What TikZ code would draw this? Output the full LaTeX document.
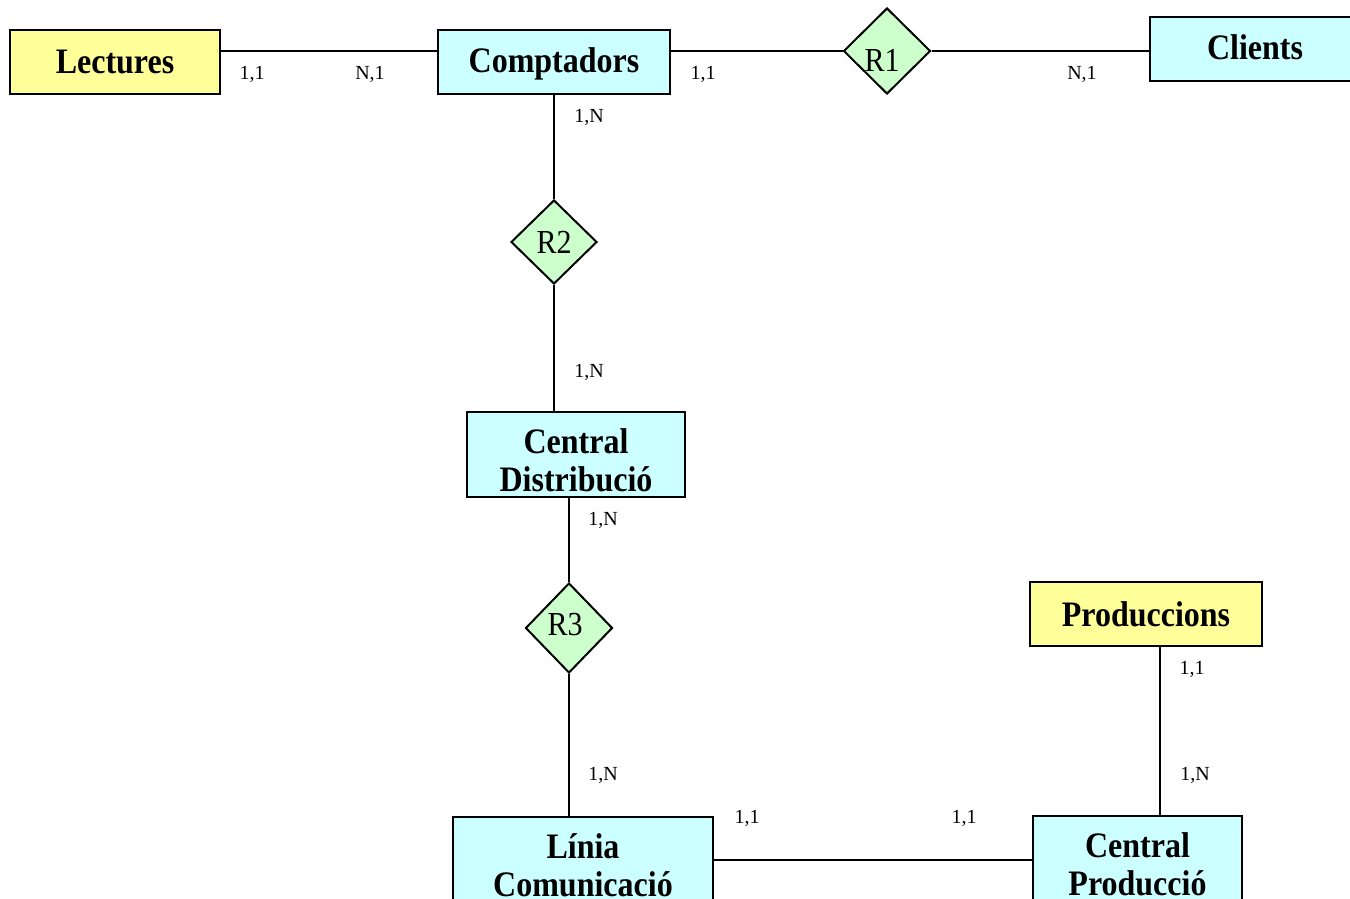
\documentclass[tikz,border=0pt]{standalone}
\usepackage{fontspec}
\setmainfont{Liberation Serif}
\usetikzlibrary{shapes.geometric}
\definecolor{entyel}{HTML}{FFFF99}
\definecolor{entcyan}{HTML}{CCFFFF}
\definecolor{relgreen}{HTML}{CCFFCC}
\newcommand\vstr[1]{\scalebox{1}[1.12]{#1}}
\newcommand\twolines[2]{\raisebox{-5.3pt}[\height][\depth]{\begin{tabular}{@{}c@{}}\vstr{#1}\\[0.5pt]\vstr{#2}\end{tabular}}}
\tikzset{
  ent/.style={draw=black, line width=1pt, inner sep=0pt, align=center,
    font=\fontsize{16}{18.5}\selectfont\bfseries},
  weakent/.style={ent, fill=entyel},
  strongent/.style={ent, fill=entcyan},
  rel/.style={diamond, draw=black, line width=1pt, fill=relgreen, inner sep=0pt,
    font=\fontsize{15}{17}\selectfont},
  card/.style={font=\fontsize{10}{12}\selectfont, inner sep=0pt},
  conn/.style={line width=1pt}
}
\begin{document}
\begin{tikzpicture}[x=0.5pt, y=-0.5pt]
\useasboundingbox (0,0) rectangle (1350,899);
\clip (0,0) rectangle (1350,899);
% entities
\node[weakent, minimum width=105pt, minimum height=32pt] (lect) at (115,62) {\vstr{Lectures}};
\node[strongent, minimum width=116pt, minimum height=32pt] (comp) at (554,62) {\raisebox{-1pt}[\height][\depth]{\vstr{Comptadors}}};
\node[strongent, minimum width=105pt, minimum height=32pt] (cli) at (1255,49) {\raisebox{0.8pt}[\height][\depth]{\vstr{Clients}}};
\node[strongent, minimum width=109pt, minimum height=42.5pt] (cd) at (576,454.5) {\twolines{Central}{Distribució}};
\node[strongent, minimum width=130pt, minimum height=42.5pt] (lin) at (583,859.5) {\twolines{Línia}{Comunicació}};
\node[strongent, minimum width=104.5pt, minimum height=42.5pt] (cp) at (1137.5,858.5) {\twolines{Central}{Producció}};
\node[weakent, minimum width=116pt, minimum height=32pt] (prod) at (1146,614) {\vstr{Produccions}};
% relationships
\node[rel, minimum width=43.5pt, minimum height=43pt] (r1) at (887,51) {};
\node[font=\fontsize{15}{17}\selectfont, inner sep=0pt] (r1t) at (882,60) {\vstr{R1}};
\node[rel, minimum width=43pt, minimum height=42pt] (r2) at (554,242) {\vstr{R2}};
\node[rel, minimum width=43.5pt, minimum height=45pt] (r3) at (569,628) {\raisebox{1.5pt}[\height][\depth]{\hspace{-4pt}\vstr{R3}}};
% connectors
\draw[conn] (lect.east |- r1.west) -- (comp.west |- r1.west);
\draw[conn] (comp.east |- r1.west) -- (r1.west);
\draw[conn] (r1.east) -- (cli.west |- r1.east);
\draw[conn] (comp.south) -- (r2.north);
\draw[conn] (r2.south) -- (r2.south |- cd.north);
\draw[conn] (r3.north |- cd.south) -- (r3.north);
\draw[conn] (r3.south) -- (r3.south |- lin.north);
\draw[conn] (lin.east) -- (cp.west |- lin.east);
\coordinate (pc) at ([xshift=7pt]prod.south);
\draw[conn] (pc) -- (pc |- cp.north);
% cardinalities
\node[card] (c1) at (252,74) {1,1};
\node[card] (c2) at (370,74) {N,1};
\node[card] (c3) at (703,74) {1,1};
\node[card] (c4) at (1082,74) {N,1};
\node[card] (c5) at (589,117) {1,N};
\node[card] (c6) at (589,372) {1,N};
\node[card] (c7) at (603,520) {1,N};
\node[card] (c8) at (603,775) {1,N};
\node[card] (c9) at (747,818) {1,1};
\node[card] (c10) at (964,818) {1,1};
\node[card] (c11) at (1192,669) {1,1};
\node[card] (c12) at (1195,775) {1,N};
\end{tikzpicture}
\end{document}
